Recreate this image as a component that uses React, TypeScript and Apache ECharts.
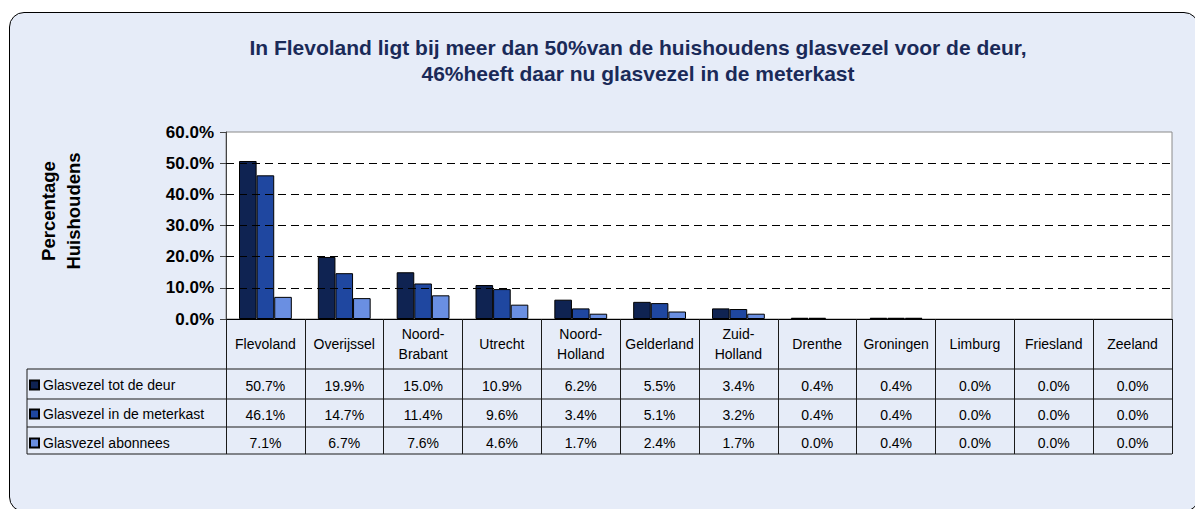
import React, { useEffect, useRef } from "react";
import * as echarts from "echarts";

const categories = ["Flevoland", "Overijssel", "Noord-Brabant", "Utrecht", "Noord-Holland", "Gelderland", "Zuid-Holland", "Drenthe", "Groningen", "Limburg", "Friesland", "Zeeland"];
const seriesNames = ["Glasvezel tot de deur", "Glasvezel in de meterkast", "Glasvezel abonnees"];
const totDeDeur = [50.7, 19.9, 15.0, 10.9, 6.2, 5.5, 3.4, 0.4, 0.4, 0.0, 0.0, 0.0];
const inMeterkast = [46.1, 14.7, 11.4, 9.6, 3.4, 5.1, 3.2, 0.4, 0.4, 0.0, 0.0, 0.0];
const abonnees = [7.1, 6.7, 7.6, 4.6, 1.7, 2.4, 1.7, 0.0, 0.4, 0.0, 0.0, 0.0];
const gridValues = [10, 20, 30, 40, 50];
const yTicks = { min: 0, max: 60, interval: 10 };
const titleLines = ["In Flevoland ligt bij meer dan 50%van de huishoudens glasvezel voor de deur,", "46%heeft daar nu glasvezel in de meterkast"];
const yName = ["Percentage", "Huishoudens"];

const colors = ["#0F2352", "#1F47A0", "#6A8FE2"];
const FONT = "Arial, 'Liberation Sans', sans-serif";

const GRID = { left: 226, top: 132, width: 946, height: 187 };
const ROWS = [369, 399, 427, 454];
const TABLE_LEFT = 27;

export default function App() {
  const ref = useRef<HTMLDivElement>(null);
  useEffect(() => {
    if (!ref.current) return;
    const chart = echarts.init(ref.current, undefined, { renderer: "svg" });
    const bottom = GRID.top + GRID.height;
    const right = GRID.left + GRID.width;
    const rows = [totDeDeur, inMeterkast, abonnees];
    const valueAxes = rows.map((vals, k) => ({
      type: "category",
      gridIndex: 0,
      position: "bottom",
      data: categories,
      offset: ROWS[k] - bottom,
      axisLine: { show: false },
      axisTick: { show: false },
      axisLabel: {
        interval: 0,
        margin: (ROWS[k + 1] - ROWS[k]) / 2 + 2,
        verticalAlign: "middle",
        fontFamily: FONT,
        fontSize: 14,
        color: "#000",
        formatter: (_v: string, i: number) => vals[i].toFixed(1) + "%",
      },
    }));
    const hLines = [...ROWS].map((y) => ({
      type: "line",
      shape: { x1: TABLE_LEFT, y1: y, x2: right, y2: y },
      style: { stroke: "#1a1a1a", lineWidth: 1 },
    }));
    chart.setOption({
      animation: false,
      title: {
        text: titleLines.join("\n"),
        left: 638,
        top: 34,
        padding: 0,
        textAlign: "center",
        textStyle: { fontFamily: FONT, fontSize: 21, fontWeight: "bold", color: "#1A2A58", lineHeight: 26 },
      },
      legend: {
        orient: "vertical",
        left: 29,
        top: 378,
        itemWidth: 9,
        itemHeight: 9,
        itemGap: 15,
        icon: "rect",
        padding: 0,
        selectedMode: false,
        textStyle: { fontFamily: FONT, fontSize: 14, color: "#000", padding: [0, 0, 0, -1] },
        data: seriesNames,
      },
      grid: {
        left: GRID.left,
        top: GRID.top,
        width: GRID.width,
        height: GRID.height,
        show: true,
        backgroundColor: "#ffffff",
        borderColor: "#8a8a8a",
        borderWidth: 1,
      },
      xAxis: [
        {
          type: "category",
          gridIndex: 0,
          data: categories,
          axisLine: { show: true, lineStyle: { color: "#000", width: 1 } },
          axisTick: { show: true, length: ROWS[3] - bottom, interval: 0, lineStyle: { color: "#1a1a1a" } },
          axisLabel: {
            interval: 0,
            margin: (ROWS[0] - bottom) / 2,
            verticalAlign: "middle",
            fontFamily: FONT,
            fontSize: 14,
            lineHeight: 20,
            color: "#000",
            formatter: (v: string) => v.replace("-", "-\n"),
          },
        },
        ...valueAxes,
      ],
      yAxis: {
        type: "value",
        min: yTicks.min,
        max: yTicks.max,
        interval: yTicks.interval,
        axisLine: { show: true, lineStyle: { color: "#444", width: 1 } },
        axisTick: { show: true, length: 6, lineStyle: { color: "#444" } },
        splitLine: { show: false },
        axisLabel: {
          margin: 12,
          fontFamily: FONT,
          fontSize: 17,
          fontWeight: "bold",
          color: "#000",
          formatter: (v: number) => v.toFixed(1) + "%",
        },
      },
      graphic: [
        ...hLines,
        {
          type: "line",
          shape: { x1: TABLE_LEFT, y1: ROWS[0], x2: TABLE_LEFT, y2: ROWS[3] },
          style: { stroke: "#1a1a1a", lineWidth: 1 },
        },
        {
          type: "text",
          x: 61,
          y: 211,
          rotation: Math.PI / 2,
          style: {
            text: yName.join("\n"),
            align: "center",
            verticalAlign: "middle",
            font: "bold 18.5px " + FONT,
            lineHeight: 25,
            fill: "#000",
          },
        },
      ],
      series: rows.map((vals, k) => ({
        name: seriesNames[k],
        type: "bar",
        data: vals.map((v) => ({ value: v, itemStyle: v === 0 ? { borderWidth: 0 } : undefined })),
        barGap: "0%",
        barCategoryGap: "33%",
        itemStyle: { color: colors[k], borderColor: "#000", borderWidth: 1 },
        markLine:
          k === 0
            ? {
                silent: true,
                symbol: "none",
                label: { show: false },
                lineStyle: { type: [8, 5], color: "#000", width: 1 },
                data: gridValues.map((v) => ({ yAxis: v })),
              }
            : undefined,
      })),
    });
    return () => chart.dispose();
  }, []);
  return (
    <div style={{ position: "fixed", left: 0, top: 0, width: 1195, height: 509, background: "#fff", overflow: "hidden" }}>
      <div
        style={{
          position: "absolute",
          left: 9,
          top: 12,
          width: 1190,
          height: 500,
          boxSizing: "border-box",
          border: "1px solid #000",
          borderRadius: 15,
          background: "#E6ECF8",
        }}
      />
      <div ref={ref} style={{ position: "absolute", left: 0, top: 0, width: 1195, height: 509 }} />
    </div>
  );
}
